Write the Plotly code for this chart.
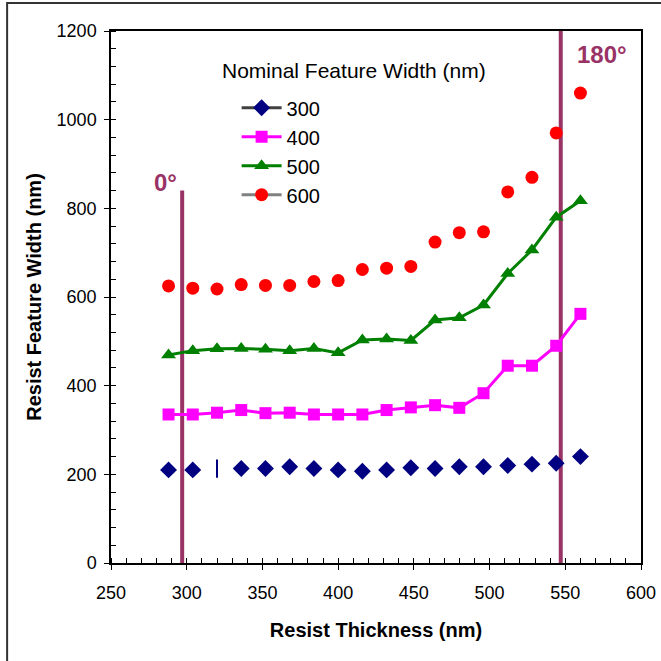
import plotly.graph_objects as go

thickness = [288, 304, 320, 336, 352, 368, 384, 400, 416, 432, 448, 464, 480, 496, 512, 528, 544, 560]

w300 = [210, 210, 213, 213, 213, 217, 213, 210, 207, 210, 215, 213, 217, 217, 220, 223, 225, 240]
w400 = [335, 335, 339, 345, 338, 339, 335, 335, 335, 345, 351, 356, 350, 383, 445, 445, 490, 562]
w500 = [469, 479, 483, 484, 482, 479, 484, 474, 503, 505, 502, 548, 553, 582, 653, 706, 780, 817]
w600 = [625, 620, 618, 628, 626, 626, 635, 637, 662, 665, 669, 724, 745, 747, 837, 870, 970, 1060]

series_names = ["300", "400", "500", "600"]
legend_title = "Nominal Feature Width (nm)"

angle_x = [297, 547]
angle_top = [840, 1200]
angle_labels = ["0°", "180°"]
angle_label_x = [286, 574]
angle_label_y = [858, 1146]

x_ticks = [250, 300, 350, 400, 450, 500, 550, 600]
y_ticks = [0, 200, 400, 600, 800, 1000, 1200]

PLUM = "#993366"
FONT = "Liberation Sans, Arial, sans-serif"

fig = go.Figure()

# 300 series: markers only (one point drawn as a thin vertical bar)
sym300 = ["diamond"] * len(thickness)
sym300[2] = "line-ns"
lw300 = [0] * len(thickness)
lw300[2] = 2
fig.add_trace(go.Scatter(
    x=thickness, y=w300, mode="markers", showlegend=False,
    marker=dict(symbol=sym300, size=13, color="#000080",
                line=dict(color="#000080", width=lw300)),
))
fig.add_trace(go.Scatter(
    x=thickness, y=w400, mode="lines+markers", name=series_names[1],
    legendgroup="g400", legendrank=2,
    line=dict(color="#FF00FF", width=3),
    marker=dict(symbol="square", size=12, color="#FF00FF"),
))
fig.add_trace(go.Scatter(
    x=thickness, y=w500, mode="lines+markers", name=series_names[2],
    legendgroup="g500", legendrank=3,
    line=dict(color="#008000", width=3),
    marker=dict(symbol="triangle-up", size=13, color="#008000"),
))
fig.add_trace(go.Scatter(
    x=thickness, y=w600, mode="markers", showlegend=False,
    marker=dict(symbol="circle", size=13, color="#FF0000"),
))
# legend entries for the marker-only series
fig.add_trace(go.Scatter(
    x=[None], y=[None], mode="lines+markers", name=series_names[0],
    legendgroup="g300", legendrank=1,
    line=dict(color="#404040", width=3),
    marker=dict(symbol="diamond", size=13, color="#000080"),
))
fig.add_trace(go.Scatter(
    x=[None], y=[None], mode="lines+markers", name=series_names[3],
    legendgroup="g600", legendrank=4,
    line=dict(color="#808080", width=3),
    marker=dict(symbol="circle", size=13, color="#FF0000"),
))
# overlay axes for the inward half of the crossing major ticks
fig.add_trace(go.Scatter(x=[None], y=[None], xaxis="x2", yaxis="y2",
                         showlegend=False, hoverinfo="skip"))

for ax, top in zip(angle_x, angle_top):
    fig.add_shape(type="line", x0=ax, x1=ax, y0=0, y1=top, xref="x", yref="y",
                  line=dict(color=PLUM, width=4), layer="below")
for lx, ly, txt in zip(angle_label_x, angle_label_y, angle_labels):
    fig.add_annotation(x=lx, y=ly, xref="x", yref="y", text=f"<b>{txt}</b>",
                       showarrow=False, font=dict(family=FONT, size=24, color=PLUM))

fig.add_annotation(x=0.2057, y=0.925, xref="paper", yref="paper",
                   xanchor="left", yanchor="middle", showarrow=False,
                   text=legend_title, font=dict(family=FONT, size=21, color="black"))

# outer frame of the picture
fig.add_shape(type="rect", xref="paper", yref="paper",
              x0=-0.196, x1=1.1, y0=-0.25, y1=1.0526,
              line=dict(color="#333333", width=2), layer="below")

axis_common = dict(showgrid=False, zeroline=False, showline=True,
                   linecolor="black", linewidth=1.5, mirror=True, automargin=False,
                   ticks="outside", ticklen=5, tickwidth=1.2, tickcolor="black",
                   tickfont=dict(family=FONT, size=18, color="black"))

fig.update_layout(
    width=661, height=661,
    margin=dict(l=111, r=20, t=31, b=98, autoexpand=False),
    paper_bgcolor="white", plot_bgcolor="white",
    font=dict(family=FONT, color="black"),
    xaxis=dict(range=[250, 600], tickvals=x_ticks, ticklabelstandoff=8,
               ticklabeloverflow="allow",
               minor=dict(dtick=10, ticks="inside", ticklen=5, tickcolor="black", tickwidth=1),
               title=dict(text="<b>Resist Thickness (nm)</b>", standoff=21,
                          font=dict(family=FONT, size=20)),
               **axis_common),
    yaxis=dict(range=[0, 1200], tickvals=y_ticks, ticklabelstandoff=4,
               minor=dict(dtick=40, ticks="inside", ticklen=5, tickcolor="black", tickwidth=1),
               title=dict(text="<b>Resist Feature Width (nm)</b>", standoff=10,
                          font=dict(family=FONT, size=20)),
               **axis_common),
    xaxis2=dict(overlaying="x", matches="x", range=[250, 600], tickvals=x_ticks,
                ticks="inside", ticklen=5, tickwidth=1.2, tickcolor="black",
                showticklabels=False, showgrid=False, zeroline=False, showline=False,
                side="bottom", automargin=False),
    yaxis2=dict(overlaying="y", matches="y", range=[0, 1200], tickvals=y_ticks,
                ticks="inside", ticklen=5, tickwidth=1.2, tickcolor="black",
                showticklabels=False, showgrid=False, zeroline=False, showline=False,
                side="left", automargin=False),
    legend=dict(x=0.237, y=0.8925, xanchor="left", yanchor="top",
                bgcolor="rgba(0,0,0,0)", tracegroupgap=0,
                font=dict(family=FONT, size=20, color="black"),
                itemwidth=40),
    showlegend=True,
)

fig.write_html("out.html", config={"displayModeBar": False},
               post_script="document.body.style.margin='0';")
